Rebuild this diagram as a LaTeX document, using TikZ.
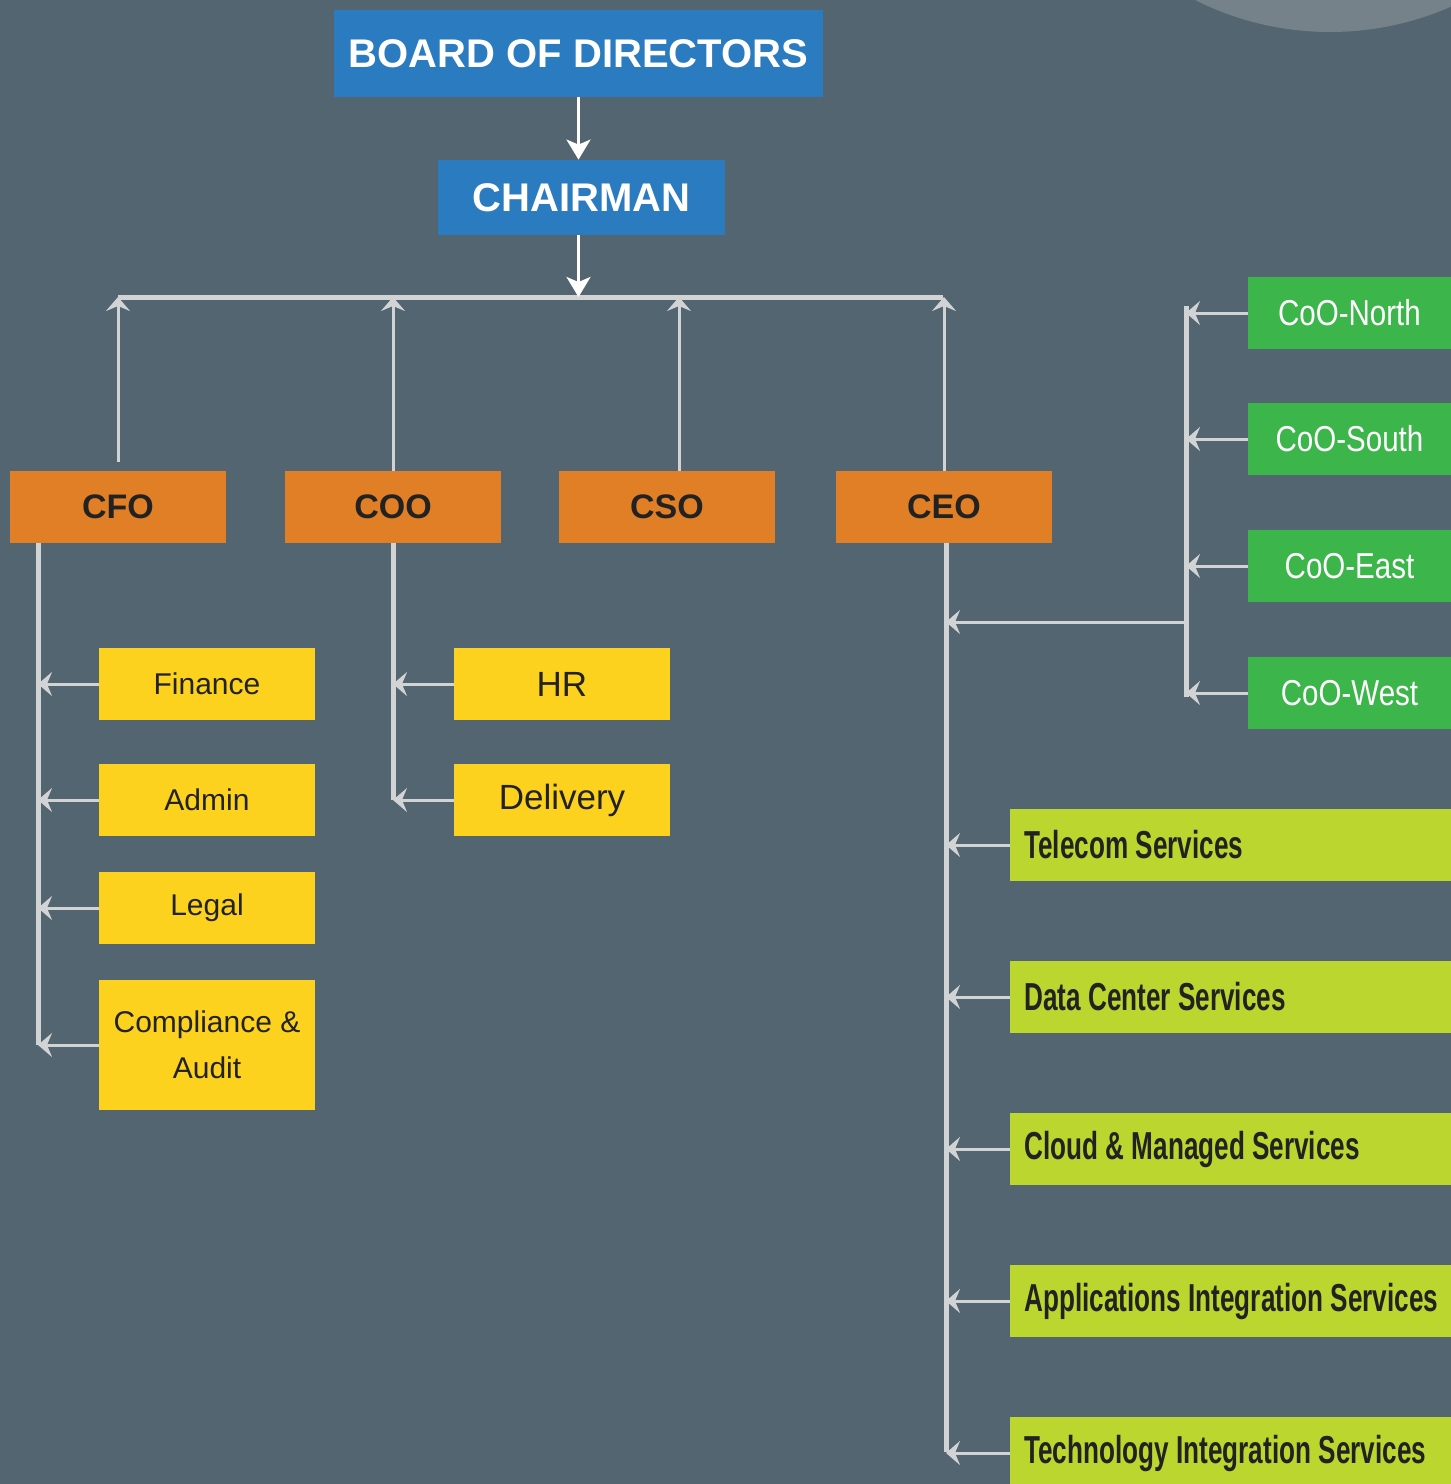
\documentclass[tikz,border=0pt]{standalone}
\usepackage{fontspec}
\setmainfont{Liberation Sans}
\newfontfamily\narrowfont{Liberation Sans}[FakeStretch=0.67]
\newfontfamily\slimfont{Liberation Sans}[FakeStretch=0.82]
\usetikzlibrary{arrows.meta}
\definecolor{bg}{HTML}{536570}
\definecolor{disc}{HTML}{76828A}
\definecolor{boardblue}{HTML}{2B7BC0}
\definecolor{headorange}{HTML}{E07F26}
\definecolor{unityellow}{HTML}{FCD21E}
\definecolor{coogreen}{HTML}{3CB54A}
\definecolor{svclime}{HTML}{BCD630}
\definecolor{wire}{HTML}{D2D3D5}
\definecolor{ink}{HTML}{222222}
\tikzset{
 bluebox/.style={fill=boardblue,text=white,font=\fontsize{20}{24}\selectfont\bfseries,inner sep=0pt},
 headbox/.style={fill=headorange,text=ink,font=\fontsize{17}{20}\selectfont\bfseries,minimum width=108pt,minimum height=36pt,inner sep=0pt},
 unitbox/.style={fill=unityellow,text=ink,font=\fontsize{15}{23}\selectfont,minimum width=108pt,minimum height=36pt,inner sep=0pt,align=center},
 coobox/.style={fill=coogreen,text=white,font=\slimfont\fontsize{18}{21}\selectfont,minimum width=101.5pt,minimum height=36pt,inner sep=0pt},
 svcbox/.style={fill=svclime,text=ink,font=\narrowfont\bfseries\fontsize{19.5}{23}\selectfont,anchor=west,minimum height=36pt,text width=216pt,inner xsep=7pt,inner ysep=0pt,align=flush left},
 link/.style={draw=wire,line width=1.5pt,-{Stealth[length=7pt,width=12pt,inset=2.5pt]}},
 whitelink/.style={draw=white,line width=1.5pt,-{Stealth[length=10pt,width=12pt,inset=2.5pt]}},
 trunk/.style={draw=wire,line width=2.5pt},
}
\begin{document}
\begin{tikzpicture}[x=0.5pt,y=-0.5pt]
 \fill[bg] (0,0) rectangle (1451,1484);
 \useasboundingbox (0,0) rectangle (1451,1484);
 \clip (0,0) rectangle (1451,1484);
 \fill[disc] (1330,-268) circle (300);

 \node (board) at (578.5,53.5) [bluebox,minimum width=244.5pt,minimum height=43.5pt] {BOARD OF DIRECTORS};
 \node (chair) at (581.5,197.5) [bluebox,minimum width=143.5pt,minimum height=37.5pt] {CHAIRMAN};
 \coordinate (busl) at (118,297);
 \coordinate (busr) at (943,297);
 \coordinate (csoup) at (679,297);
 \draw[whitelink] (board.south) -- (board.south |- chair.north);
 \draw[trunk] (busl) -- (busr);
 \draw[whitelink] (board.south |- chair.south) -- (board.south |- busl);

 \node (cfo) at (118,507) [headbox] {CFO};
 \node (coo) at (393,507) [headbox] {COO};
 \node (cso) at (667,507) [headbox] {CSO};
 \node (ceo) at (944,507) [headbox] {CEO};
 \draw[link] ([yshift=4.5pt]cfo.north) -- (cfo.north |- busl);
 \draw[link] (coo.north) -- (coo.north |- busl);
 \draw[link] (csoup |- cso.north) -- (csoup);
 \draw[link] (ceo.north) -- (ceo.north |- busl);

 \node (fin) at (207,684) [unitbox] {Finance};
 \node (adm) at (207,800) [unitbox] {Admin};
 \node (leg) at (207,908) [unitbox] {Legal};
 \node (comp) at (207,1045) [unitbox,minimum height=65pt] {Compliance \&\\Audit};
 \coordinate (cfot) at (38,1045);
 \draw[trunk] (cfot |- cfo.south) -- (cfot);
 \foreach \n in {fin,adm,leg,comp}
  \draw[link] (\n.west) -- (\n.west -| cfot);

 \node (hr) at (562,684) [unitbox,font=\fontsize{17.5}{21}\selectfont] {HR};
 \node (del) at (562,800) [unitbox,font=\fontsize{17.5}{21}\selectfont] {Delivery};
 \draw[trunk] (coo.south) -- (coo.south |- del);
 \foreach \n in {hr,del}
  \draw[link] (\n.west) -- (\n.west -| coo.south);

 \node (north) at (1349.5,313) [coobox] {CoO-North};
 \node (south) at (1349.5,439) [coobox] {CoO-South};
 \node (east) at (1349.5,566) [coobox] {CoO-East};
 \node (west) at (1349.5,693) [coobox] {CoO-West};
 \coordinate (cootop) at (1186,306);
 \coordinate (coobot) at (1186,697);
 \coordinate (coomid) at (1186,622);
 \draw[trunk] (cootop) -- (coobot);
 \foreach \n in {north,south,east,west}
  \draw[link] (\n.west) -- (\n.west -| cootop);

 \node (tel) at (1010,845) [svcbox] {Telecom Services};
 \node (dc) at (1010,997) [svcbox] {Data Center Services};
 \node (cld) at (1010,1149) [svcbox] {Cloud \& Managed Services};
 \node (app) at (1010,1301) [svcbox] {Applications Integration Services};
 \node (tech) at (1010,1453) [svcbox] {Technology Integration Services};
 \coordinate (ceot) at (946,1452);
 \draw[trunk] (ceot |- ceo.south) -- (ceot);
 \draw[link] (coomid) -- (coomid -| ceot);
 \foreach \n in {tel,dc,cld,app,tech}
  \draw[link] (\n.west) -- (\n.west -| ceot);
\end{tikzpicture}
\end{document}
